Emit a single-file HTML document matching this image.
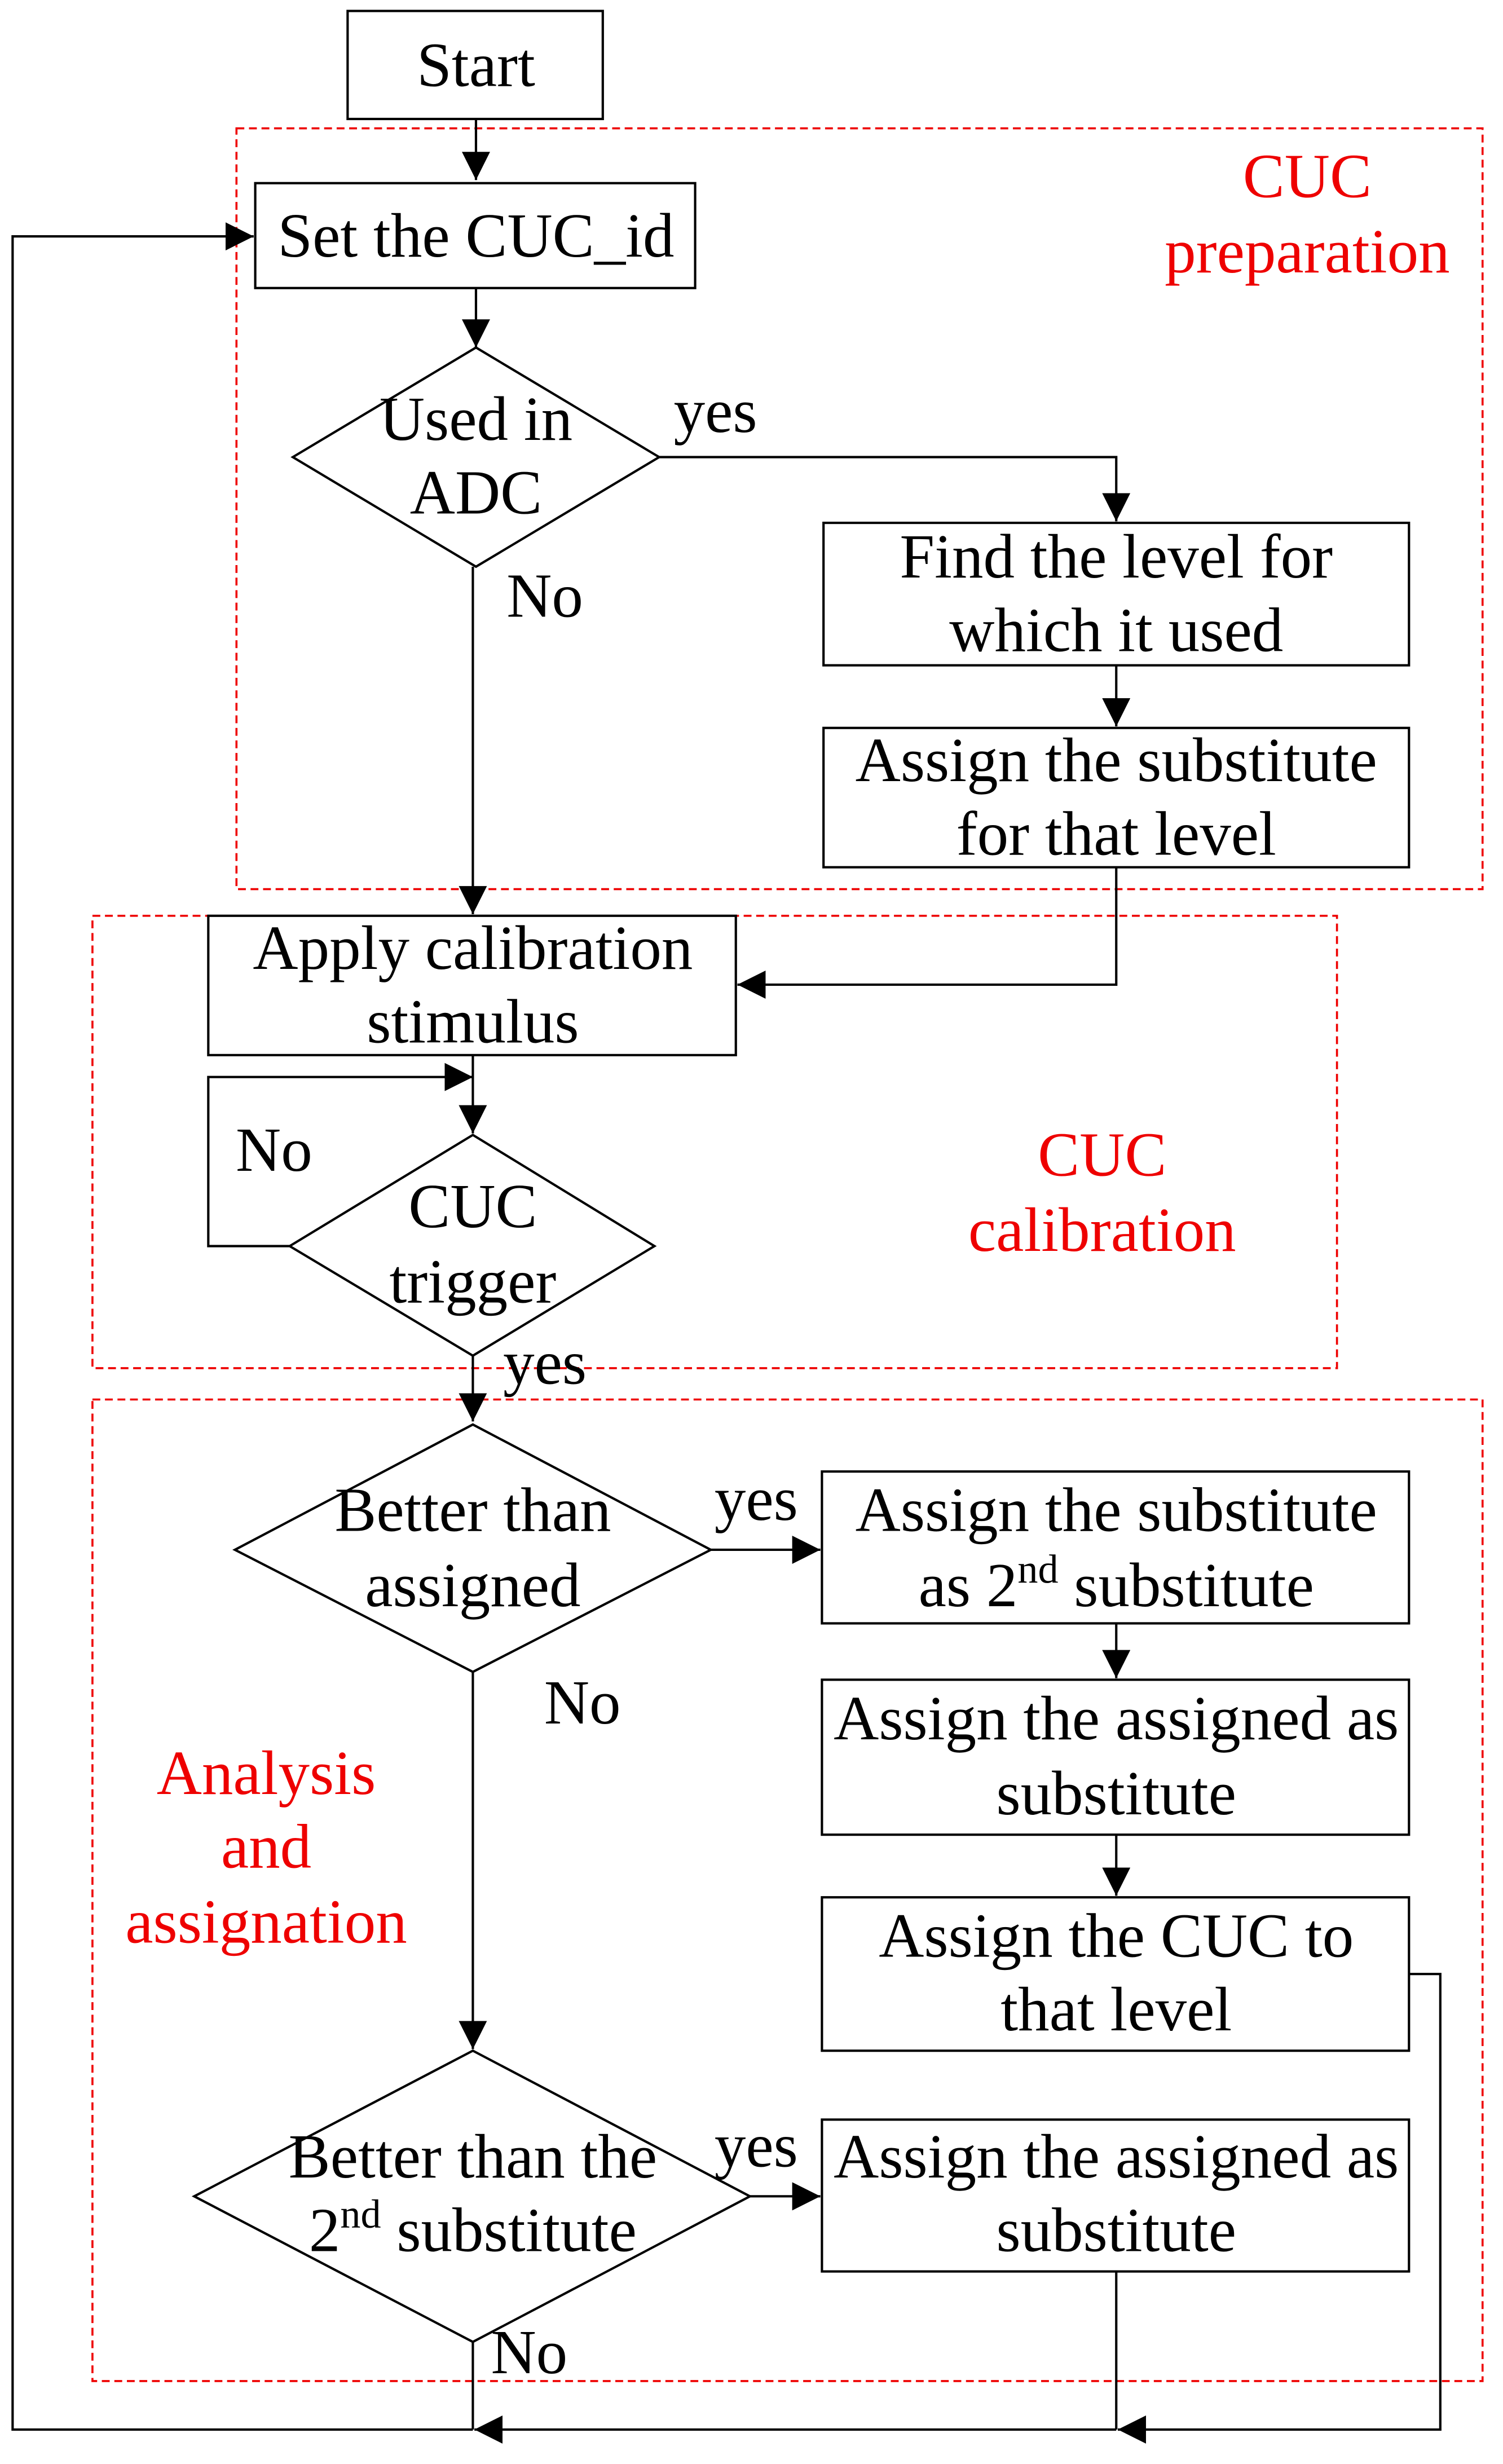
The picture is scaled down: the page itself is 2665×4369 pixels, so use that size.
<!DOCTYPE html>
<html><head><meta charset="utf-8"><style>html,body{margin:0;padding:0;background:#fff}svg{display:block}</style></head>
<body>
<svg xmlns="http://www.w3.org/2000/svg" width="2665" height="4369" viewBox="0 0 960 1574">
<defs>
<marker id="a" viewBox="0 0 10 10" refX="10" refY="5" markerWidth="18" markerHeight="18" markerUnits="userSpaceOnUse" orient="auto"><path d="M0,0 L10,5 L0,10 z" fill="#000"/></marker>
</defs>
<g fill="none" stroke="#e00" stroke-width="1.3" stroke-dasharray="5,3">
<rect x="151" y="82" width="796" height="486"/>
<rect x="59" y="585" width="795" height="289"/>
<rect x="59" y="894" width="888" height="627"/>
</g>
<g fill="#fff" stroke="#000" stroke-width="1.5">
<rect x="222" y="7" width="163" height="69"/>
<rect x="163" y="117" width="281" height="67"/>
<polygon points="187,292 304,222 421,292 304,362"/>
<rect x="526" y="334" width="374" height="91"/>
<rect x="526" y="465" width="374" height="89"/>
<rect x="133" y="585" width="337" height="89"/>
<polygon points="185,796 302,725 418,796 302,866"/>
<polygon points="150,990 302,910 454,990 302,1068"/>
<rect x="525" y="940" width="375" height="97"/>
<rect x="525" y="1073" width="375" height="99"/>
<rect x="525" y="1212" width="375" height="98"/>
<polygon points="124,1403 302,1310 479,1403 302,1496"/>
<rect x="525" y="1354" width="375" height="97"/>
</g>
<g fill="none" stroke="#000" stroke-width="1.5">
<line x1="304" y1="76" x2="304" y2="115" marker-end="url(#a)"/>
<line x1="304" y1="184" x2="304" y2="222" marker-end="url(#a)"/>
<polyline points="421,292 713,292 713,333" marker-end="url(#a)"/>
<line x1="713" y1="425" x2="713" y2="464" marker-end="url(#a)"/>
<line x1="302" y1="362" x2="302" y2="584" marker-end="url(#a)"/>
<polyline points="713,554 713,629 471,629" marker-end="url(#a)"/>
<line x1="302" y1="674" x2="302" y2="724" marker-end="url(#a)"/>
<polyline points="185,796 133,796 133,688 302,688" marker-end="url(#a)"/>
<line x1="302" y1="866" x2="302" y2="908" marker-end="url(#a)"/>
<line x1="454" y1="990" x2="524" y2="990" marker-end="url(#a)"/>
<line x1="713" y1="1037" x2="713" y2="1072" marker-end="url(#a)"/>
<line x1="713" y1="1172" x2="713" y2="1211" marker-end="url(#a)"/>
<line x1="302" y1="1068" x2="302" y2="1309" marker-end="url(#a)"/>
<line x1="479" y1="1403" x2="524" y2="1403" marker-end="url(#a)"/>
<line x1="713" y1="1451" x2="713" y2="1552"/>
<polyline points="900,1261 920,1261 920,1552 714,1552" marker-end="url(#a)"/>
<line x1="302" y1="1496" x2="302" y2="1552"/>
<line x1="713" y1="1552" x2="303" y2="1552" marker-end="url(#a)"/>
<polyline points="302,1552 8,1552 8,151 162,151" marker-end="url(#a)"/>
</g>
<g font-family="Liberation Serif, serif" font-size="40" text-anchor="middle" fill="#000">
<text x="304" y="55">Start</text>
<text x="304" y="164">Set the CUC_id</text>
<text x="304" y="281">Used in</text>
<text x="304" y="328">ADC</text>
<text x="457" y="276">yes</text>
<text x="348" y="394">No</text>
<text x="713" y="369">Find the level for</text>
<text x="713" y="416">which it used</text>
<text x="713" y="499">Assign the substitute</text>
<text x="713" y="546">for that level</text>
<text x="302" y="619">Apply calibration</text>
<text x="302" y="666">stimulus</text>
<text x="175" y="748">No</text>
<text x="302" y="784">CUC</text>
<text x="302" y="832">trigger</text>
<text x="348" y="884">yes</text>
<text x="302" y="978">Better than</text>
<text x="302" y="1026">assigned</text>
<text x="483" y="971">yes</text>
<text x="713" y="978">Assign the substitute</text>
<text x="713" y="1026">as 2<tspan font-size="26" dy="-15">nd</tspan><tspan dy="15"> substitute</tspan></text>
<text x="372" y="1101">No</text>
<text x="713" y="1111">Assign the assigned as</text>
<text x="713" y="1159">substitute</text>
<text x="713" y="1250">Assign the CUC to</text>
<text x="713" y="1297">that level</text>
<text x="302" y="1391">Better than the</text>
<text x="302" y="1438">2<tspan font-size="26" dy="-15">nd</tspan><tspan dy="15"> substitute</tspan></text>
<text x="483" y="1384">yes</text>
<text x="713" y="1391">Assign the assigned as</text>
<text x="713" y="1438">substitute</text>
<text x="338" y="1516">No</text>
</g>
<g font-family="Liberation Serif, serif" font-size="40" text-anchor="middle" fill="#e00">
<text x="835" y="126">CUC</text>
<text x="835" y="174">preparation</text>
<text x="704" y="751">CUC</text>
<text x="704" y="799">calibration</text>
<text x="170" y="1146">Analysis</text>
<text x="170" y="1193">and</text>
<text x="170" y="1241">assignation</text>
</g>
</svg>
</body></html>
